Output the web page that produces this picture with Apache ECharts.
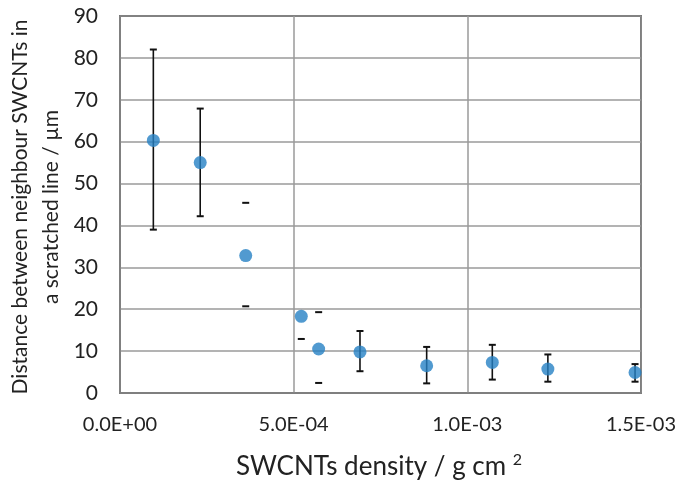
<!DOCTYPE html>
<html>
<head>
<meta charset="utf-8">
<script src="https://cdn.jsdelivr.net/npm/echarts@6/dist/echarts.min.js"></script>
<style>
  html, body { margin: 0; padding: 0; background: #fff; }
  #chart { width: 679px; height: 488px; }
</style>
</head>
<body>
<div id="chart"></div>
<script>
// SWCNT density (g cm^-2) against mean spacing of neighbouring SWCNTs (µm)
const density = [0.096e-3, 0.231e-3, 0.362e-3, 0.522e-3, 0.572e-3, 0.691e-3, 0.883e-3, 1.072e-3, 1.232e-3, 1.483e-3];
const distance = [60.3, 55.0, 32.8, 18.3, 10.5, 9.8, 6.5, 7.3, 5.7, 4.9];
// error bar ends (absolute values); null where no end is drawn
const errHigh = [82.0, 67.9, 45.4, null, 19.3, 14.8, 11.0, 11.5, 9.2, 6.9];
const errLow  = [39.0, 42.2, 20.7, 12.9, 2.4, 5.2, 2.3, 3.2, 2.7, 2.7];
// whether the vertical stem of each error bar is drawn
const stemDrawn = [1, 1, 0, 0, 0, 1, 1, 1, 1, 1];

const xTicks = { min: 0, max: 1.5e-3, step: 0.5e-3 };
const yTicks = { min: 0, max: 90, step: 10 };

const FONT = 'Lato, "Open Sans", sans-serif';

function sci(v) {
  const parts = v.toExponential(1).split('e');
  const exp = parts[1];
  const sign = exp[0] === '-' ? '-' : '+';
  const digits = exp.replace(/[+-]/, '').padStart(2, '0');
  return parts[0] + 'E' + sign + digits;
}

const points = density.map((x, i) => [x, distance[i]]);
const errRows = density.map((x, i) => [x, errLow[i], errHigh[i], stemDrawn[i], distance[i]]);

const chart = echarts.init(document.getElementById('chart'), null, { renderer: 'canvas' });

chart.setOption({
  animation: false,
  backgroundColor: '#ffffff',
  grid: {
    left: 120, right: 37, top: 16, bottom: 95,
    show: true, borderColor: '#000000', borderWidth: 1.5, backgroundColor: 'transparent'
  },
  xAxis: {
    type: 'value',
    min: xTicks.min, max: xTicks.max, interval: xTicks.step,
    axisLine: { show: true, onZero: false, lineStyle: { color: '#7f7f7f', width: 1.5 } },
    axisTick: { show: false },
    splitLine: { show: true, lineStyle: { color: '#9a9a9a', width: 1.5 } },
    axisLabel: { formatter: sci, color: '#222', fontFamily: FONT, fontSize: 20, margin: 22 }
  },
  yAxis: {
    type: 'value',
    min: yTicks.min, max: yTicks.max, interval: yTicks.step,
    axisLine: { show: true, onZero: false, lineStyle: { color: '#7f7f7f', width: 1.5 } },
    axisTick: { show: false },
    splitLine: { show: true, lineStyle: { color: '#9a9a9a', width: 1.5 } },
    axisLabel: { color: '#222', fontFamily: FONT, fontSize: 21, margin: 22 }
  },
  series: [
    {
      type: 'custom',
      data: errRows,
      z: 3,
      renderItem: function (params, api) {
        const x = api.value(0);
        const lo = api.value(1);
        const hi = api.value(2);
        const stem = api.value(3);
        const mid = api.value(4);
        const capHalf = 3.5;
        const children = [];
        const style = { stroke: '#111', lineWidth: 1.6 };
        const pMid = api.coord([x, mid]);
        const px = pMid[0];
        const pLo = lo == null || isNaN(lo) ? null : api.coord([x, lo]);
        const pHi = hi == null || isNaN(hi) ? null : api.coord([x, hi]);
        if (stem) {
          const top = pHi ? pHi[1] : pMid[1];
          const bot = pLo ? pLo[1] : pMid[1];
          children.push({ type: 'line', shape: { x1: px, y1: top, x2: px, y2: bot }, style: style });
        }
        if (pHi) children.push({ type: 'line', shape: { x1: px - capHalf, y1: pHi[1], x2: px + capHalf, y2: pHi[1] }, style: { stroke: '#111', lineWidth: 2 } });
        if (pLo) children.push({ type: 'line', shape: { x1: px - capHalf, y1: pLo[1], x2: px + capHalf, y2: pLo[1] }, style: { stroke: '#111', lineWidth: 2 } });
        return { type: 'group', children: children };
      }
    },
    {
      type: 'scatter',
      data: points,
      z: 4,
      symbol: 'circle',
      symbolSize: 13,
      itemStyle: { color: '#2581c4' }
    }
  ],
  graphic: [
    {
      type: 'text',
      x: 36, y: 207,
      rotation: Math.PI / 2,
      style: {
        text: 'Distance between neighbour SWCNTs in\na scratched line / µm',
        font: '21px ' + FONT,
        fill: '#222',
        align: 'center',
        verticalAlign: 'middle',
        lineHeight: 31
      }
    },
    {
      type: 'text',
      x: 379, y: 467,
      style: {
        text: 'SWCNTs density / g cm {s|2}',
        font: '26px ' + FONT,
        fill: '#222',
        align: 'center',
        verticalAlign: 'middle',
        rich: {
          s: { fontSize: 16, fontFamily: FONT, fill: '#222', verticalAlign: 'top', padding: [0, 0, 14, 0] }
        }
      }
    }
  ]
});
</script>
</body>
</html>
